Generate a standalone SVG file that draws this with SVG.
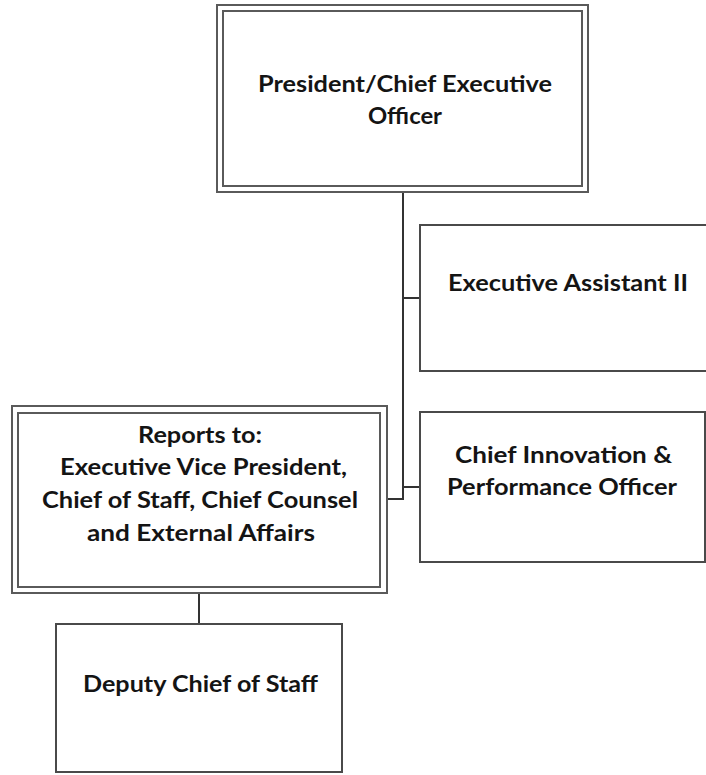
<svg xmlns="http://www.w3.org/2000/svg" width="706" height="775" viewBox="0 0 706 775">
<style>
  .dbl { fill: none; stroke: #5a5a5a; stroke-width: 2; }
  .box { fill: #ffffff; stroke: #4a4a4a; stroke-width: 2; }
  .conn { fill: none; stroke: #333333; stroke-width: 2; }
  text { font-family: "Lato", "Open Sans", "Liberation Sans", sans-serif; font-size: 23px; font-weight: bold; fill: #141414; }
</style>
<rect width="706" height="775" fill="#ffffff"/>
<g id="connectors">
  <polyline class="conn" points="403,192 403,499 387,499"/>
  <line class="conn" x1="403" y1="298" x2="420" y2="298"/>
  <line class="conn" x1="403" y1="487" x2="420" y2="487"/>
  <line class="conn" x1="199" y1="593" x2="199" y2="624"/>
</g>
<g id="ceo">
  <rect x="217" y="5" width="371" height="187" fill="#ffffff" class="dbl"/>
  <rect x="223" y="11" width="359" height="175" class="dbl"/>
  <text x="258" y="92" textLength="294" lengthAdjust="spacingAndGlyphs">President/Chief Executive</text>
  <text x="368" y="124" textLength="74" lengthAdjust="spacingAndGlyphs">Officer</text>
</g>
<g id="exec-assistant">
  <rect x="420" y="225" width="300" height="146" class="box"/>
  <text x="448" y="291" textLength="240" lengthAdjust="spacingAndGlyphs">Executive Assistant II</text>
</g>
<g id="cipo">
  <rect x="420" y="412" width="285" height="150" class="box"/>
  <text x="455" y="463" textLength="217" lengthAdjust="spacingAndGlyphs">Chief Innovation &amp;</text>
  <text x="447" y="495" textLength="230" lengthAdjust="spacingAndGlyphs">Performance Officer</text>
</g>
<g id="reports-to">
  <rect x="12" y="406" width="375" height="187" fill="#ffffff" class="dbl"/>
  <rect x="18" y="413" width="362" height="174" class="dbl"/>
  <text x="138" y="443" textLength="124" lengthAdjust="spacingAndGlyphs">Reports to:</text>
  <text x="60" y="475" textLength="287" lengthAdjust="spacingAndGlyphs">Executive Vice President,</text>
  <text x="42" y="508" textLength="316" lengthAdjust="spacingAndGlyphs">Chief of Staff, Chief Counsel</text>
  <text x="87" y="541" textLength="228" lengthAdjust="spacingAndGlyphs">and External Affairs</text>
</g>
<g id="deputy">
  <rect x="56" y="624" width="286" height="148" class="box"/>
  <text x="83" y="692" textLength="235" lengthAdjust="spacingAndGlyphs">Deputy Chief of Staff</text>
</g>
</svg>
